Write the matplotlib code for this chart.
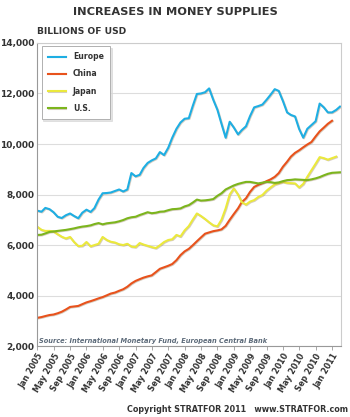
import matplotlib
matplotlib.use("Agg")
import matplotlib.pyplot as plt
import matplotlib.dates as mdates
import matplotlib.patheffects as pe
import pandas as pd

# monthly money supply, billions of USD, starting Jan 2005
europe = [7360, 7320, 7470, 7420, 7300, 7120, 7070, 7180, 7250, 7150,
          7060, 7280, 7400, 7310, 7460, 7800, 8050, 8060, 8080, 8140,
          8200, 8120, 8200, 8850, 8720, 8780, 9050, 9250, 9350, 9430,
          9680, 9560, 9850, 10250, 10600, 10850, 11000, 11020, 11500, 11980,
          12000, 12050, 12200, 11750, 11350, 10800, 10250, 10880, 10650, 10380,
          10550, 10700, 11100, 11450, 11500, 11560, 11750, 11950, 12170, 12100,
          11700, 11250, 11150, 11090, 10600, 10250, 10600, 10750, 10900, 11600,
          11450, 11250, 11250, 11350, 11480]
china = [3120, 3150, 3190, 3230, 3250, 3300, 3360, 3450, 3550, 3570,
         3590, 3660, 3730, 3780, 3830, 3890, 3940, 4010, 4080, 4120,
         4190, 4250, 4350, 4480, 4580, 4650, 4710, 4760, 4800, 4930,
         5060, 5120, 5180, 5250, 5400, 5600, 5750, 5850, 5990, 6150,
         6300, 6450, 6500, 6550, 6580, 6620, 6760, 7000, 7230, 7450,
         7700, 7850, 8100, 8300, 8380, 8450, 8530, 8600, 8700, 8850,
         9100, 9300, 9500, 9650, 9750, 9870, 9980, 10080, 10300, 10500,
         10650, 10800, 10920]
japan = [6720, 6600, 6560, 6560, 6540, 6430, 6330, 6260, 6320, 6120,
         5960, 5970, 6120, 5950, 6000, 6050, 6320, 6200, 6130, 6100,
         6030, 6000, 6050, 5940, 5920, 6080, 6020, 5970, 5920, 5880,
         5990, 6120, 6200, 6230, 6400, 6340, 6580, 6750, 7000, 7250,
         7150, 7030, 6900, 6780, 6740, 7000, 7450, 8000, 8240, 8000,
         7700, 7600, 7720, 7780, 7900, 7980, 8150, 8280, 8400, 8450,
         8500, 8460, 8450, 8440, 8280, 8420, 8700, 8960, 9220, 9480,
         9440, 9380, 9440, 9500]
us = [6400, 6410, 6460, 6520, 6540, 6560, 6580, 6600, 6630, 6660,
      6700, 6730, 6750, 6780, 6830, 6870, 6820, 6860, 6880, 6900,
      6940, 6990, 7060, 7100, 7120, 7190, 7240, 7300, 7260, 7280,
      7320, 7330, 7380, 7420, 7430, 7450, 7530, 7580, 7680, 7800,
      7760, 7770, 7790, 7820, 7950, 8050, 8200, 8280, 8360, 8420,
      8460, 8500, 8500, 8470, 8440, 8470, 8500, 8490, 8460, 8480,
      8530, 8570, 8580, 8600, 8590, 8580, 8570, 8600, 8640, 8690,
      8760, 8820, 8860, 8870, 8880]

series = [("Europe", europe, "#1eaee3"),
          ("China", china, "#e8521c"),
          ("Japan", japan, "#ebe93c"),
          ("U.S.", us, "#7cb51d")]

fig = plt.figure(figsize=(3.5, 4.17), dpi=100)
ax = fig.add_axes([0.106, 0.170, 0.868, 0.727])

shadow = [pe.SimpleLineShadow(offset=(0.5, -0.5), shadow_color="#7a5a30", alpha=0.3), pe.Normal()]
for name, vals, col in series:
    dates = pd.date_range("2005-01-01", periods=len(vals), freq="MS")
    ax.plot(dates, vals, color=col, lw=1.5, label=name, path_effects=shadow,
            solid_joinstyle="round")

ax.set_ylim(2000, 14000)
ax.set_yticks(range(2000, 14001, 2000))
ax.set_yticklabels([f"{v:,}" for v in range(2000, 14001, 2000)])
ax.set_xlim(pd.Timestamp("2004-12-30"), pd.Timestamp("2011-03-08"))
ax.xaxis.set_major_locator(mdates.MonthLocator(bymonth=[1, 5, 9]))
ax.xaxis.set_major_formatter(mdates.DateFormatter("%b %Y"))

ax.grid(axis="y", color="#dddddd", lw=0.8)
ax.set_axisbelow(True)
for s in ["top", "right"]:
    ax.spines[s].set_color("#cccccc")
for s in ["left", "bottom"]:
    ax.spines[s].set_color("#999999")
for s in ax.spines.values():
    s.set_linewidth(0.8)

ax.tick_params(axis="y", length=0, pad=2, labelsize=6.5, labelcolor="#333333")
ax.tick_params(axis="x", length=3, width=0.6, color="#999999", pad=1,
               labelsize=5.8, labelcolor="#333333")
for lbl in ax.get_yticklabels():
    lbl.set_fontweight("bold")
for lbl in ax.get_xticklabels():
    lbl.set_fontweight("bold")
    lbl.set_rotation(60)
    lbl.set_ha("right")
    lbl.set_va("top")
    lbl.set_rotation_mode("anchor")

leg = ax.legend(loc="upper left", bbox_to_anchor=(0.01, 0.995),
                prop={"weight": "bold", "size": 5.6}, handlelength=2.3,
                labelspacing=1.05, borderpad=0.8, handletextpad=0.9,
                borderaxespad=0.2, fancybox=False, edgecolor="#b0b0b0",
                shadow={"color": "#d8d8d8", "alpha": 0.7, "ox": 1.2, "oy": -1.2})
leg.get_frame().set_linewidth(0.7)
for t in leg.get_texts():
    t.set_color("#333333")

ax.text(0.005, 0.008, "Source: International Monetary Fund, European Central Bank",
        transform=ax.transAxes, fontsize=4.8, style="italic", fontweight="bold",
        color="#5d6b7a", ha="left", va="bottom")

fig.text(0.5, 0.972, "INCREASES IN MONEY SUPPLIES", ha="center", va="center",
         fontsize=8.2, fontweight="bold", color="#333333")
fig.text(0.106, 0.913, "BILLIONS OF USD", ha="left", va="bottom",
         fontsize=6.6, fontweight="bold", color="#333333")
fig.text(0.994, 0.017, "Copyright STRATFOR 2011   www.STRATFOR.com", ha="right",
         va="center", fontsize=5.8, fontweight="bold", color="#333333")

fig.savefig("out.png", dpi=100)
